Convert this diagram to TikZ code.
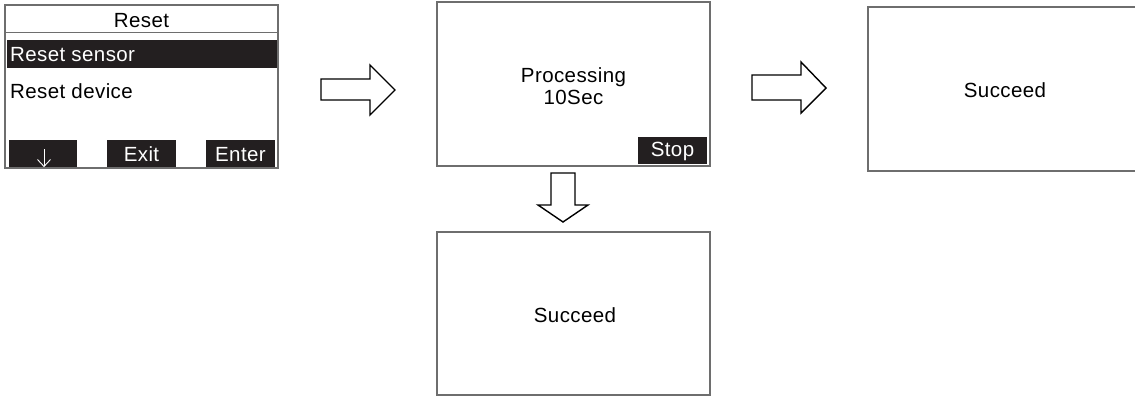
\documentclass[tikz,border=0pt]{standalone}
\usepackage{fontspec}
\setmainfont{Liberation Sans}[LetterSpace=2]
\definecolor{scr}{HTML}{231F20}
\definecolor{frame}{HTML}{6E6E6E}
\begin{document}
\begin{tikzpicture}[x=1pt,y=-1pt,
  screen/.style={draw=frame,line width=1.2pt},
  bar/.style={fill=scr},
  txt/.style={font=\fontsize{20.5}{23}\selectfont,anchor=base,inner sep=0pt},
  wtxt/.style={txt,text=white},
  blockarrow/.style={draw=black,line width=1.4pt,fill=white,line join=miter}]
\useasboundingbox (0,0) rectangle (1135,396);

% Screen 1: Reset menu
\draw[screen] (5,5) rectangle (278,168);
\draw[frame,line width=1pt] (5,32.5) -- (278,32.5);
\node[txt] (title) at (141.5,28) {Reset};
\fill[bar] (7,40) rectangle (277,68);
\node[wtxt,anchor=base west] (rs) at (10,62) {Reset sensor};
\node[txt,anchor=base west] (rd) at (10,98) {Reset device};
\fill[bar] (9,140) rectangle (77,167);
\fill[bar] (107,140) rectangle (176,167);
\fill[bar] (206,140) rectangle (275,167);
\draw[white,line width=0.9pt] (44,149) -- (44,166);
\draw[white,line width=0.9pt] (37.5,159.5) -- (44,166.5) -- (50.5,159.5);
\node[wtxt] (exit) at (141.5,161) {Exit};
\node[wtxt] (enter) at (240.5,161) {Enter};

% Screen 2: Processing
\draw[screen] (437,2) rectangle (710,166);
\node[txt] (proc) at (573.5,82) {Processing};
\node[txt] (sec) at (573.5,104) {10Sec};
\fill[bar] (638,137) rectangle (707,164);
\node[wtxt] (stop) at (672.5,156) {Stop};

% Screen 3: Succeed (right)
\draw[screen] (1140,7) -- (868,7) -- (868,171) -- (1140,171);
\node[txt] (succ1) at (1005,97) {Succeed};

% Screen 4: Succeed (bottom)
\draw[screen] (437,232) rectangle (710,395);
\node[txt] (succ2) at (575,322) {Succeed};

% Block arrows
\draw[blockarrow] (321,79) -- (370,79) -- (370,65) -- (395,90) -- (370,115) -- (370,100) -- (321,100) -- cycle;
\draw[blockarrow] (752,75) -- (801,75) -- (801,62) -- (826,88) -- (801,113) -- (801,100) -- (752,100) -- cycle;
\draw[blockarrow] (551,173) -- (575,173) -- (575,205) -- (588,205) -- (563,222) -- (538,205) -- (551,205) -- cycle;
\end{tikzpicture}
\end{document}
